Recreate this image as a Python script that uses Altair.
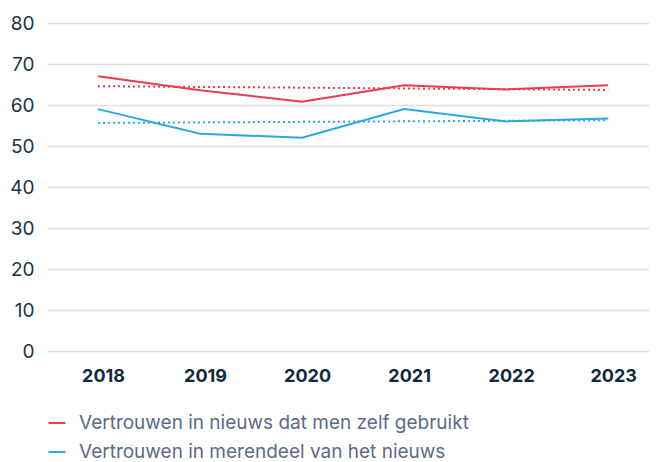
import altair as alt
import pandas as pd

years = [2018, 2019, 2020, 2021, 2022, 2023]
series_names = ["Vertrouwen in nieuws dat men zelf gebruikt",
                "Vertrouwen in merendeel van het nieuws"]
own_news = [67, 63.6, 60.8, 64.8, 63.8, 64.8]
all_news = [59, 53, 52, 59, 56, 56.7]
colors = ["#ee3a4e", "#2aa8e6"]

rows = []
for y, a, b in zip(years, own_news, all_news):
    rows.append({"year": y, "value": a, "series": series_names[0]})
    rows.append({"year": y, "value": b, "series": series_names[1]})
df = pd.DataFrame(rows)

FONT = "Inter"
W, H = 602, 328

x_enc = alt.X("year:Q", scale=alt.Scale(domain=[2017.5, 2023.4], nice=False, zero=False),
              axis=alt.Axis(values=years, format="d", title=None, grid=False, domain=False,
                            ticks=False, labelFont=FONT, labelFontSize=18, labelFontWeight="bold",
                            labelColor="#112a3c", labelPadding=16, labelOffset=5))
y_enc = alt.Y("value:Q", scale=alt.Scale(domain=[0, 80], nice=False),
              axis=alt.Axis(values=[0, 10, 20, 30, 40, 50, 60, 70, 80], title=None, domain=False,
                            ticks=False, gridColor="#dedede", gridWidth=1.5, labelFont=FONT,
                            labelFontSize=19, labelColor="#1a3346", labelPadding=13))
color_enc = alt.Color("series:N", scale=alt.Scale(domain=series_names, range=colors),
                      legend=alt.Legend(title=None, orient="none", legendX=0, legendY=H + 62,
                                        direction="vertical", symbolType="stroke",
                                        symbolStrokeWidth=2, symbolSize=290, labelLimit=600,
                                        labelFont=FONT, labelFontSize=19, labelColor="#5c6b86",
                                        rowPadding=9, labelOffset=12))

base = alt.Chart(df)
lines = base.mark_line(strokeWidth=2).encode(x=x_enc, y=y_enc, color=color_enc)
trend = base.transform_regression("year", "value", groupby=["series"], extent=[2018, 2023]).mark_line(
    strokeWidth=2, strokeDash=[2, 3]).encode(
    x="year:Q", y="value:Q",
    color=alt.Color("series:N", scale=alt.Scale(domain=series_names, range=colors), legend=None))

chart = alt.layer(lines, trend).properties(
    width=W, height=H,
    autosize=alt.AutoSizeParams(type="none"),
    padding={"left": 39, "top": 15, "right": 0, "bottom": 111},
).configure(background="white", view=alt.ViewConfig(stroke=None))

chart.save("out.html", embed_options={"renderer": "svg", "actions": False})
